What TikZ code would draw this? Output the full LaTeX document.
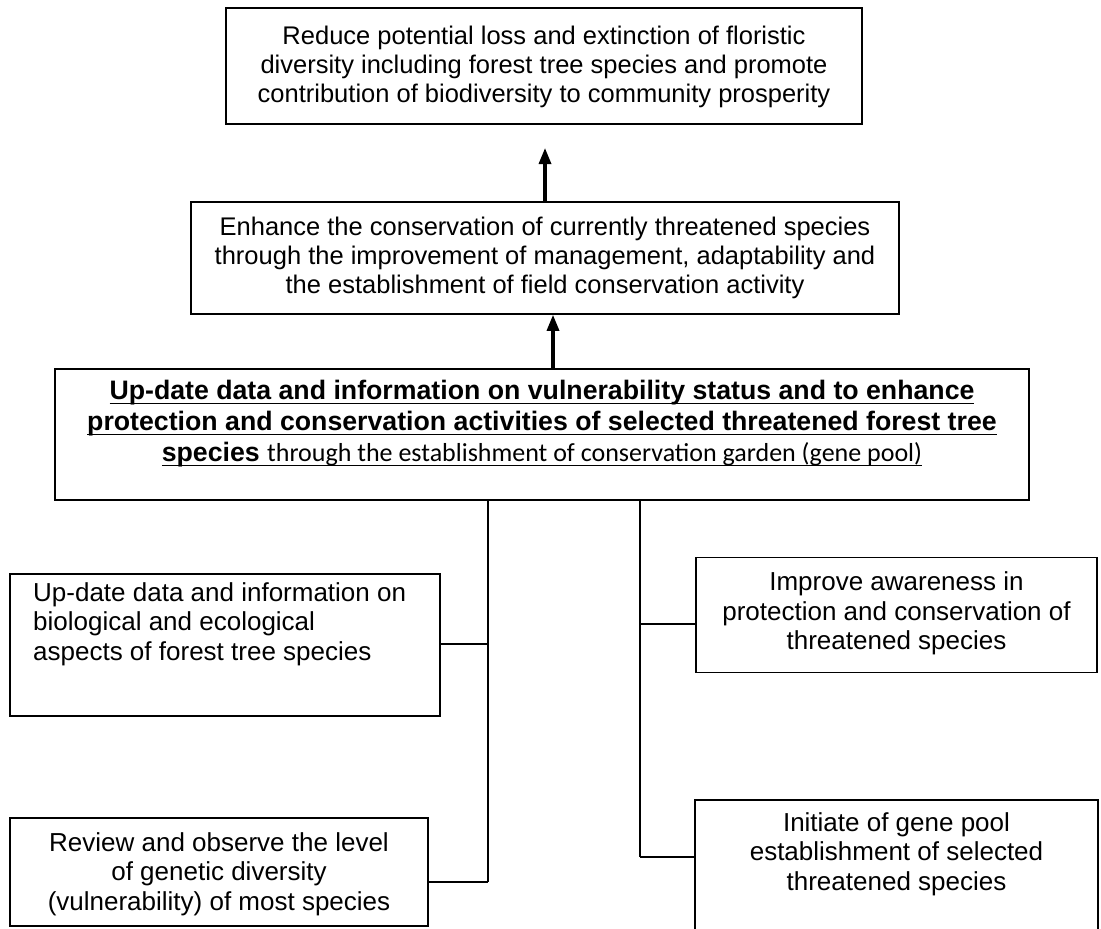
\documentclass[tikz,border=0pt]{standalone}
\usepackage{fontspec}
\setmainfont{Liberation Sans}
\newfontfamily\calib{Carlito}
\newcommand\myul[1]{\setbox0\hbox{#1}\rlap{\rule[-4.5pt]{\wd0}{1.4pt}}\box0}
\usetikzlibrary{arrows.meta}
\begin{document}
\begin{tikzpicture}[x=1pt,y=-1pt,
  box/.style={draw,line width=1.6pt,rectangle,inner sep=0pt},
  txt/.style={font=\fontsize{25.5}{29}\selectfont,align=center,inner sep=0pt},
  stxt/.style={font=\fontsize{26}{29.5}\selectfont,align=center,inner sep=0pt},
  arr/.style={line width=3.2pt,-{Triangle[width=12pt,length=16pt]}},
  conn/.style={line width=1.4pt}]
\useasboundingbox (0,0) rectangle (1101,929);
\clip (0,0) rectangle (1101,929);
% boxes
\node[box,minimum width=636pt,minimum height=116pt] (b1) at (544,66) {};
\node[txt] (t1) at (544,67) {Reduce potential loss and extinction of floristic\\diversity including forest tree species and promote\\contribution of biodiversity to community prosperity};
\node[box,minimum width=708pt,minimum height=112pt] (b2) at (545,258) {};
\node[txt] (t2) at (545,258) {Enhance the conservation of currently threatened species\\through the improvement of management, adaptability and\\the establishment of field conservation activity};
\node[box,minimum width=974pt,minimum height=131pt] (b3) at (542,434.5) {};
\node[txt,anchor=north,font=\bfseries\fontsize{26.7}{31}\selectfont] (t3) at (542,380) {\myul{Up-date data and information on vulnerability status and to enhance}\\\myul{protection and conservation activities of selected threatened forest tree}\\\myul{species {\mdseries\calib\fontsize{26}{31}\selectfont through the establishment of conservation garden (gene pool)}}};
\node[box,minimum width=430pt,minimum height=142pt] (l1) at (225,645) {};
\node[stxt,align=left,anchor=north west] (tl1) at (33,582) {Up-date data and information on\\biological and ecological\\aspects of forest tree species};
\node[box,minimum width=418pt,minimum height=108pt] (l2) at (219,872) {};
\node[stxt] (tl2) at (219,874) {Review and observe the level\\of genetic diversity\\(vulnerability) of most species};
\node[box,minimum width=401pt,minimum height=115pt] (r1) at (896.5,615) {};
\node[stxt] (tr1) at (896.5,613.5) {Improve awareness in\\protection and conservation of\\threatened species};
\node[box,minimum width=403pt,minimum height=140pt] (r2) at (896.5,870) {};
\node[stxt,anchor=north] (tr2) at (896.5,812) {Initiate of gene pool\\establishment of selected\\threatened species};
% arrows
\draw[arr] (b2.north -| 545,0) -- (545,148);
\draw[arr] (b3.north -| 553,0) -- (b2.south -| 553,0);
% connectors
\coordinate (lv) at (b3.south -| 488,0);
\coordinate (rv) at (b3.south -| 640,0);
\draw[conn] (lv) -- (488,882);
\draw[conn] (l1.east |- 0,644) -- (488,644);
\draw[conn] (l2.east |- 0,882) -- (488,882);
\draw[conn] (rv) -- (640,857);
\draw[conn] (r1.west |- 0,624) -- (640,624);
\draw[conn] (r2.west |- 0,857) -- (640,857);
\end{tikzpicture}
\end{document}
